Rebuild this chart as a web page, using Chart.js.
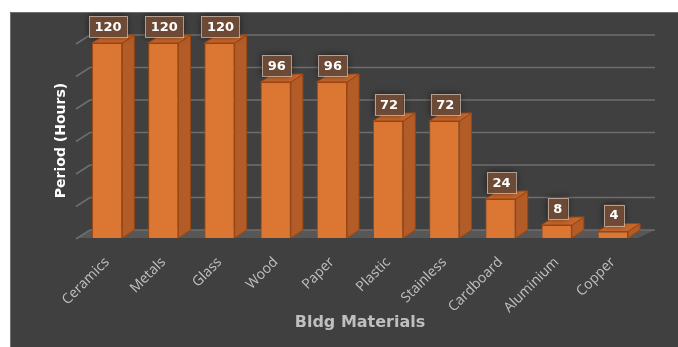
<!DOCTYPE html>
<html>
<head>
<meta charset="utf-8">
<script src="https://cdn.jsdelivr.net/npm/chart.js@4.4.0/dist/chart.umd.min.js"></script>
<style>
  html, body { margin:0; padding:0; background:#fff; }
  #wrap { position:absolute; left:10px; top:12px; width:668px; height:335px; }
</style>
</head>
<body>
<div id="wrap"><canvas id="stage1"></canvas></div>
<script>
var materials = ['Ceramics', 'Metals', 'Glass', 'Wood', 'Paper', 'Plastic', 'Stainless', 'Cardboard', 'Aluminium', 'Copper'];
var periodHours = [120, 120, 120, 96, 96, 72, 72, 24, 8, 4];
var yTicks = [0, 20, 40, 60, 80, 100, 120];

var DX = 12, DY = -8;   // depth of the fake 3D

var canvas1 = document.getElementById('stage1');

var box3d = {
  id: 'box3d',
  beforeDraw: function(chart) {
    var ctx = chart.ctx;
    ctx.save();
    ctx.fillStyle = '#404040';
    ctx.fillRect(0, 0, chart.width, chart.height);
    ctx.strokeStyle = '#707070';
    ctx.lineWidth = 1;
    ctx.beginPath();
    ctx.moveTo(0.5, chart.height);
    ctx.lineTo(0.5, 0.5);
    ctx.lineTo(chart.width, 0.5);
    ctx.stroke();
    ctx.restore();
  },
  beforeDatasetsDraw: function(chart) {
    var ctx = chart.ctx, a = chart.chartArea, ys = chart.scales.y;
    var L = a.left, R = a.right, B = a.bottom;
    ctx.save();
    // floor
    ctx.fillStyle = '#575757';
    ctx.beginPath();
    ctx.moveTo(L - 3, B);
    ctx.lineTo(R - 3, B);
    ctx.lineTo(R + 14, B + DY);
    ctx.lineTo(L + 11, B + DY);
    ctx.closePath();
    ctx.fill();
    // grid lines (back wall) + left depth strokes
    ctx.strokeStyle = '#6e6e6e';
    ctx.lineWidth = 1.5;
    for (var v of yTicks) {
      var yf = ys.getPixelForValue(v);
      var yb = yf + DY;
      ctx.beginPath();
      ctx.moveTo(L + 11, yb);
      ctx.lineTo(R + 14, yb);
      ctx.stroke();
      ctx.beginPath();
      ctx.moveTo(L - 3, yf + 1);
      ctx.lineTo(L + 11, yb);
      ctx.stroke();
    }
    ctx.restore();
  },
  afterDatasetsDraw: function(chart) {
    var ctx = chart.ctx;
    var meta = chart.getDatasetMeta(0);
    ctx.save();
    ctx.lineWidth = 1;
    ctx.strokeStyle = '#9a4714';
    meta.data.forEach(function(el) {
      var l = el.x - el.width / 2, r = el.x + el.width / 2, t = el.y, b = el.base;
      // side face
      ctx.fillStyle = '#b35c27';
      ctx.beginPath();
      ctx.moveTo(r, t);
      ctx.lineTo(r + DX, t + DY);
      ctx.lineTo(r + DX, b + DY);
      ctx.lineTo(r, b);
      ctx.closePath();
      ctx.fill();
      ctx.stroke();
      // top face
      ctx.fillStyle = '#c8672c';
      ctx.beginPath();
      ctx.moveTo(l, t);
      ctx.lineTo(l + DX, t + DY);
      ctx.lineTo(r + DX, t + DY);
      ctx.lineTo(r, t);
      ctx.closePath();
      ctx.fill();
      ctx.stroke();
    });
    // value labels
    ctx.font = 'bold 13px "DejaVu Sans"';
    ctx.textAlign = 'center';
    ctx.textBaseline = 'middle';
    meta.data.forEach(function(el, i) {
      var txt = String(periodHours[i]);
      var w = ctx.measureText(txt).width + 11, h = 21;
      var cx = el.x + 1, bottom = el.y - 6;
      ctx.save();
      ctx.shadowColor = 'rgba(0,0,0,0.55)';
      ctx.shadowBlur = 7;
      ctx.fillStyle = '#6c4a36';
      ctx.fillRect(cx - w / 2, bottom - h, w, h);
      ctx.restore();
      ctx.strokeStyle = 'rgba(205,190,180,0.75)';
      ctx.strokeRect(Math.round(cx - w / 2) + 0.5, Math.round(bottom - h) + 0.5, Math.round(w), h);
      ctx.fillStyle = '#ffffff';
      ctx.fillText(txt, cx, bottom - h / 2 + 1);
    });
    ctx.restore();
  }
};

var chart = new Chart(canvas1, {
  type: 'bar',
  data: {
    labels: materials,
    datasets: [{
      data: periodHours,
      backgroundColor: '#dc7633',
      borderColor: '#9a4714',
      borderWidth: 1,
      barPercentage: 0.54,
      categoryPercentage: 1
    }]
  },
  options: {
    responsive: true,
    maintainAspectRatio: false,
    animation: false,
    layout: { padding: { top: 31, right: 37, left: 0, bottom: 0 } },
    plugins: {
      legend: { display: false },
      tooltip: { enabled: false }
    },
    scales: {
      x: {
        grid: { display: false, drawTicks: false },
        border: { display: false },
        ticks: {
          color: '#c0c0c0',
          font: { family: 'Open Sans', size: 14 },
          minRotation: 45,
          maxRotation: 45,
          padding: 16,
          autoSkip: false
        },
        title: {
          display: true,
          text: 'Bldg Materials',
          color: '#bfbfbf',
          font: { family: 'DejaVu Sans', size: 16, weight: 'bold' },
          padding: { top: 0, bottom: 15 }
        },
        afterFit: function(s) { s.height = 109; }
      },
      y: {
        min: 0,
        max: 120,
        ticks: { display: false, stepSize: 20 },
        grid: { display: false },
        border: { display: false },
        title: {
          display: true,
          text: 'Period (Hours)',
          color: '#ffffff',
          font: { family: 'DejaVu Sans', size: 14, weight: 'bold' },
          padding: { top: 43, bottom: 0 }
        },
        afterFit: function(s) { s.width = 69; }
      }
    }
  },
  plugins: [box3d]
});
</script>
</body>
</html>
